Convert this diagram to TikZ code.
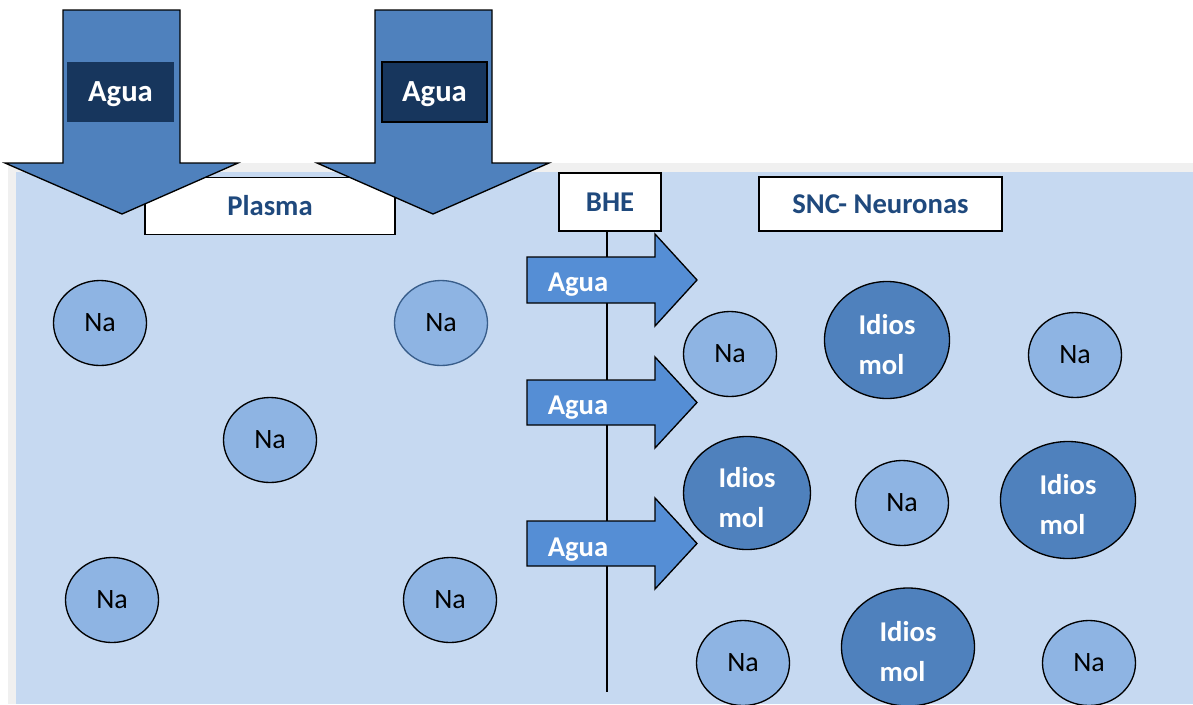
\documentclass[tikz,border=0pt]{standalone}
\usepackage{fontspec}
\setmainfont{Carlito}
\usepackage{tikz}
\usetikzlibrary{shapes.geometric}

\definecolor{bgblue}{HTML}{C6D9F1}
\definecolor{shadowgray}{HTML}{F0F0F0}
\definecolor{arrowdark}{HTML}{4F81BD}
\definecolor{navybox}{HTML}{17365D}
\definecolor{arrowlight}{HTML}{558ED5}
\definecolor{nafill}{HTML}{8EB4E3}
\definecolor{titleblue}{HTML}{1F497D}
\definecolor{rimblue}{HTML}{385D8A}

\tikzset{
  titlebox/.style={draw, line width=1pt, fill=white, inner sep=0pt,
    text height=13.9pt, text depth=0pt,
    text=titleblue, font=\fontsize{21.5}{26}\selectfont\bfseries},
  aguabox/.style={fill=navybox, inner sep=0pt, minimum height=45pt,
    text height=14.8pt, text depth=0pt,
    text=white, font=\fontsize{23}{28}\selectfont\bfseries},
  aguatext/.style={inner sep=0pt, text height=13.9pt, text depth=0pt,
    text=white, font=\fontsize{21.5}{26}\selectfont\bfseries},
  naball/.style={ellipse, draw, line width=1pt, fill=nafill, inner sep=0pt,
    minimum width=69.75pt, minimum height=63.75pt,
    font=\fontsize{21}{25}\selectfont},
  idiosball/.style={ellipse, draw, line width=1pt, fill=arrowdark, inner sep=0pt,
    align=left, text=white, font=\fontsize{21.5}{30}\selectfont\bfseries}
}

\newcommand{\idiostext}{\rule{0pt}{22.5pt}Idios\\mol}

\begin{document}
\begin{tikzpicture}[x=0.75pt,y=0.75pt,yscale=-1,xscale=1]
        \useasboundingbox (0,0) rectangle (1193,704);

        %Shape: Rectangle [background shadow]
        \fill [shadowgray] (8,163) rectangle (1193,704);
        %Shape: Rectangle [background]
        \fill [bgblue] (16,172) rectangle (1193,704);

        % Title boxes
        \node [titlebox, minimum width=187.5pt, minimum height=42.75pt] (plasma) at (270,206) {Plasma};
        \node [titlebox, minimum width=76.5pt, minimum height=43.5pt] (bhe) at (610,202) {BHE};
        \node [titlebox, minimum width=182.25pt, minimum height=40.5pt] (snc) at (880.5,204) {SNC- Neuronas};

        %Straight Lines [barrier]
        \coordinate (lineend) at (607,692);
        \draw [line width=1pt] (lineend |- bhe.south) -- (lineend);

        % Na balls, plasma side
        \node [naball] (na1) at (100,323) {Na};
        \node [naball, draw=rimblue] (na2) at (441,323) {Na};
        \node [naball] (na3) at (270,440) {Na};
        \node [naball] (na4) at (112,600) {Na};
        \node [naball] (na5) at (450,600) {Na};

        % Na balls, SNC side
        \node [naball] (na6) at (730,354) {Na};
        \node [naball] (na7) at (1075,355) {Na};
        \node [naball] (na8) at (902,503) {Na};
        \node [naball] (na9) at (743,663) {Na};
        \node [naball] (na10) at (1089,663) {Na};

        % Idiogenic osmoles
        \node [idiosball, minimum width=93.75pt, minimum height=87.75pt] (idios1) at (887,340) {\idiostext};
        \node [idiosball, minimum width=95.25pt, minimum height=84.75pt] (idios2) at (747,493) {\idiostext};
        \node [idiosball, minimum width=101.25pt, minimum height=87.75pt] (idios3) at (1068,500) {\idiostext};
        \node [idiosball, minimum width=99.75pt, minimum height=88.5pt] (idios4) at (908,647) {\idiostext};

        %Shape: Right Arrow [water 1]
        \draw [line width=1pt, fill=arrowlight] (527,257) -- (655,257) -- (655,234) -- (697,280) -- (655,326) -- (655,303) -- (527,303) -- cycle ;
        %Shape: Right Arrow [water 2]
        \draw [line width=1pt, fill=arrowlight] (527,380) -- (655,380) -- (655,357) -- (697,402.5) -- (655,448) -- (655,425) -- (527,425) -- cycle ;
        %Shape: Right Arrow [water 3]
        \draw [line width=1pt, fill=arrowlight] (527,521) -- (655,521) -- (655,498) -- (697,543.5) -- (655,589) -- (655,566) -- (527,566) -- cycle ;

        % Text Node
        \node [aguatext] (agua3) at (578,282) {Agua};
        % Text Node
        \node [aguatext] (agua4) at (578,405) {Agua};
        % Text Node
        \node [aguatext] (agua5) at (578,547) {Agua};

        %Shape: Down Arrow [water in 1]
        \draw [line width=1pt, fill=arrowdark] (63,10) -- (180,10) -- (180,163) -- (238,163) -- (122,214) -- (5,163) -- (63,163) -- cycle ;
        %Shape: Down Arrow [water in 2]
        \draw [line width=1pt, fill=arrowdark] (375,10) -- (492,10) -- (492,163) -- (549,163) -- (433,214) -- (317,163) -- (375,163) -- cycle ;

        % Text Node
        \node [aguabox, minimum width=80.25pt] (agua1) at (120.5,92) {Agua};
        % Text Node
        \node [aguabox, draw, line width=1pt, minimum width=78.75pt] (agua2) at (434.5,92) {Agua};
\end{tikzpicture}
\end{document}
